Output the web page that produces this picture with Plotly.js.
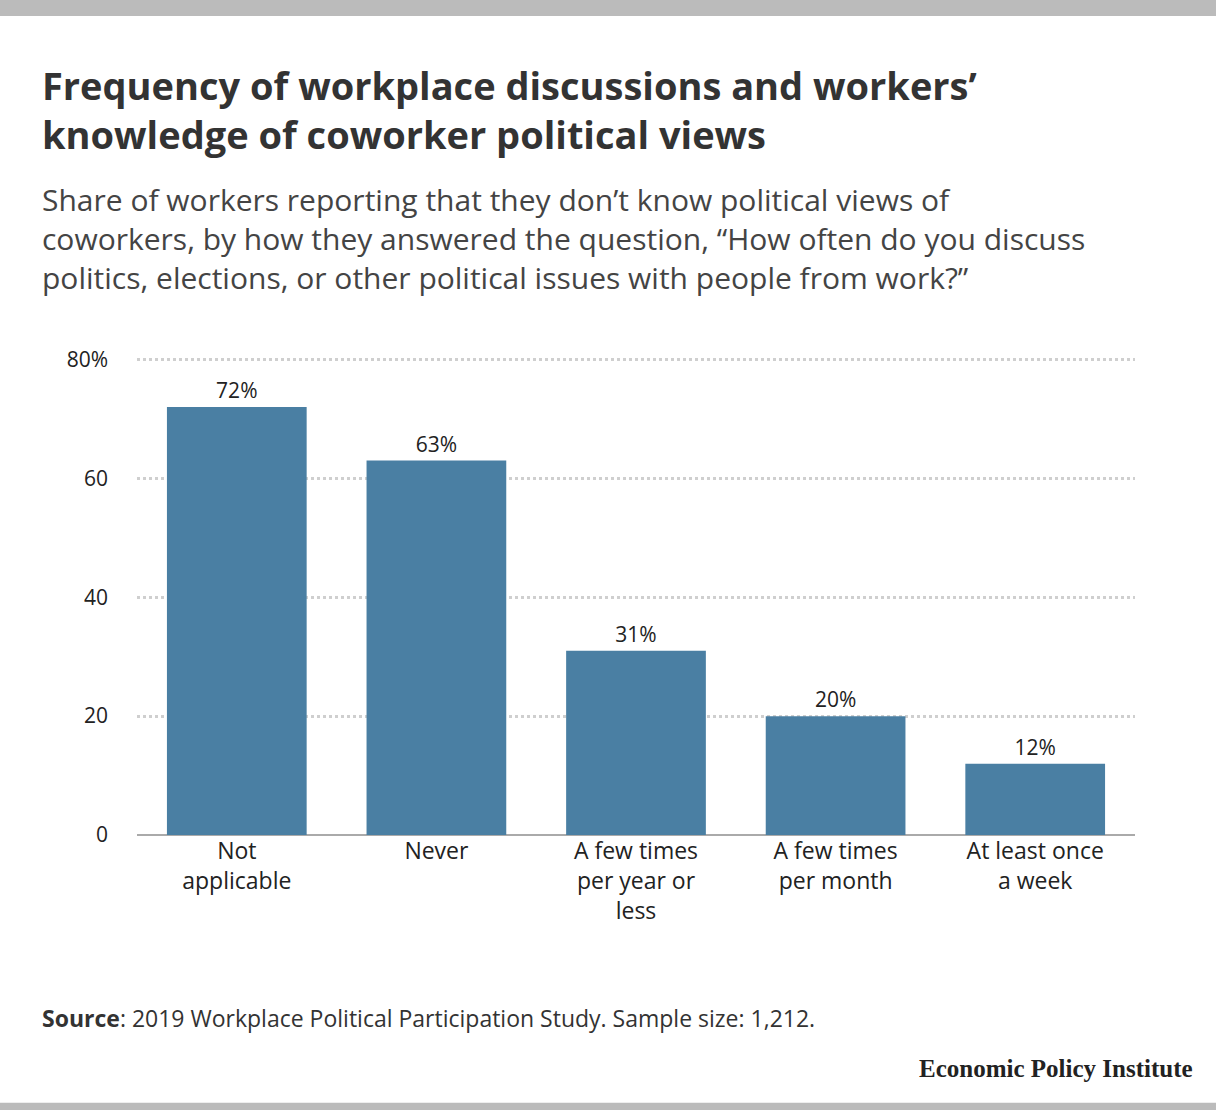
<!DOCTYPE html>
<html><head><meta charset="utf-8">
<script src="https://cdn.plot.ly/plotly-3.0.1.min.js"></script>
<style>body{margin:0;background:#fff}#chart{width:1216px;height:1110px}</style>
</head><body><div id="chart"></div>
<script>
// categories and values
var categories = ['Not<br>applicable', 'Never', 'A few times<br>per year or<br>less', 'A few times<br>per month', 'At least once<br>a week'];
var shares = [72, 63, 31, 20, 12];
var tickVals = [0, 20, 40, 60, 80];
var tickText = ['0', '20', '40', '60', '80%'];

var trace = {
  x: categories, y: shares, type: 'bar',
  marker: {color: '#4a7fa3'},
  text: shares.map(v => v + '%'), textposition: 'outside',
  textfont: {size: 21, color: '#222'}, cliponaxis: false,
  hoverinfo: 'none'
};

var font = '"Open Sans", Lato, sans-serif';
var layout = {
  width: 1216, height: 1110,
  margin: {l: 137, r: 81, t: 356, b: 275},
  paper_bgcolor: '#fff', plot_bgcolor: '#fff',
  font: {family: font, color: '#222', size: 21},
  bargap: 0.3, showlegend: false,
  xaxis: {tickfont: {size: 23}, showgrid: false, ticks: '', fixedrange: true},
  yaxis: {range: [0, 80.6], tickvals: tickVals, ticktext: tickText, tickfont: {size: 21},
    showgrid: true, gridcolor: '#cfcfcf', gridwidth: 3, griddash: 'dot',
    zeroline: true, zerolinecolor: '#aaa', zerolinewidth: 2, ticklabelstandoff: 28},
  shapes: [
    {type: 'rect', xref: 'paper', yref: 'paper', x0: -0.2, x1: 1.2, y0: 1.71, y1: 1.76, fillcolor: '#bbb', line: {width: 0}, layer: 'below'},
    {type: 'rect', xref: 'paper', yref: 'paper', x0: -0.2, x1: 1.2, y0: -0.559, y1: -0.6, fillcolor: '#bbb', line: {width: 0}, layer: 'below'}
  ],
  annotations: [
    {xref: 'paper', yref: 'paper', x: -0.097, y: 1.514, xanchor: 'left', yanchor: 'middle', align: 'left', showarrow: false,
     text: '<b>Frequency of workplace discussions and workers’<br>knowledge of coworker political views</b>', font: {size: 38, color: '#333'}},
    {xref: 'paper', yref: 'paper', x: -0.097, y: 1.246, xanchor: 'left', yanchor: 'middle', align: 'left', showarrow: false,
     text: 'Share of workers reporting that they don’t know political views of<br>coworkers, by how they answered the question, “How often do you discuss<br>politics, elections, or other political issues with people from work?”', font: {size: 30, color: '#444'}},
    {xref: 'paper', yref: 'paper', x: -0.097, y: -0.382, xanchor: 'left', yanchor: 'middle', showarrow: false,
     text: '<b>Source</b>: 2019 Workplace Political Participation Study. Sample size: 1,212.', font: {size: 23, color: '#333'}},
    {xref: 'paper', yref: 'paper', x: 1.06, y: -0.488, xanchor: 'right', yanchor: 'middle', showarrow: false,
     text: '<b>Economic Policy Institute</b>', font: {size: 25, color: '#222', family: '"Liberation Serif", "DejaVu Serif", serif'}}
  ]
};
Plotly.newPlot('chart', [trace], layout, {displayModeBar: false, staticPlot: true});
</script></body></html>
